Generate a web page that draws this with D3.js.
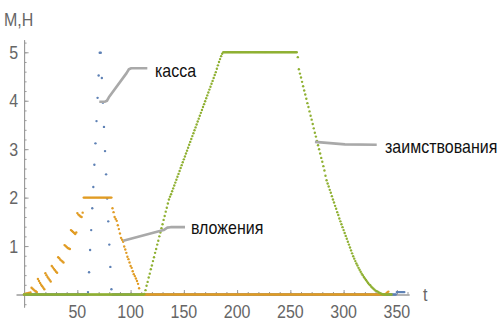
<!DOCTYPE html>
<html>
<head>
<meta charset="utf-8">
<script src="https://cdn.jsdelivr.net/npm/d3@7"></script>
<style>
  html, body { margin: 0; background: #fff; }
  svg { display: block; }
</style>
</head>
<body>
<svg id="chart" width="499" height="324"></svg>
<script>
// ---- data: M,H over time t (integer time steps) ----
// касса (cash): rise and fall around t = 60..82, flat stretches elsewhere
const kassaStart = 60;
const kassa = [0.05, 0.46, 0.92, 1.33, 1.78, 2.22, 2.68, 3.12, 3.58, 4.06, 4.52, 4.99,
               4.99, 4.47, 3.96, 3.46, 2.96, 2.48, 1.98, 1.51, 1.03, 0.57, 0.11];
const kassaLevels = [[0, 59, 0], [83, 349, 0], [350, 357, 0.05]];

// вложения (investments): stepped build-up, plateau at 2, decline
const vlozhStart = 0;
const vlozh = [0.00, 0.01, 0.02, 0.02, 0.03, 0.03, 0.04,
               0.14, 0.12, 0.10, 0.08, 0.07, 0.05,
               0.32, 0.28, 0.24, 0.20, 0.17, 0.14, 0.11,
               0.44, 0.40, 0.36, 0.33, 0.30, 0.27,
               0.59, 0.56, 0.53, 0.50, 0.47, 0.45,
               0.77, 0.75, 0.72, 0.70, 0.68, 0.66,
               1.02, 1.00, 0.98, 0.96, 0.95, 0.94,
               1.33, 1.31, 1.29, 1.27, 1.25, 1.28,
               1.68, 1.65, 1.63, 1.61, 1.60, 1.69];
const vlozhDownStart = 83;
const vlozhDown = [1.78, 1.70, 1.60, 1.56, 1.52, 1.43, 1.35, 1.26, 1.17, 1.13, 1.09, 0.99, 0.93,
                   0.86, 0.78, 0.73, 0.66, 0.59, 0.55, 0.48, 0.42, 0.38, 0.33, 0.28, 0.22, 0.13];
const vlozhTailStart = 340;
const vlozhTail = [0.02, 0.04, 0.06];
const vlozhLevels = [[56, 82, 2], [109, 339, 0]];

// заимствования (borrowings): ramp up, plateau at 5, ramp down
const zaimUpStart = 113;
const zaimUp = [0.01, 0.09, 0.18, 0.26, 0.35, 0.43, 0.52, 0.60, 0.69, 0.77, 0.86, 0.94, 1.03,
                1.11, 1.20, 1.28, 1.37, 1.45, 1.54, 1.62, 1.71, 1.79, 1.88, 1.96, 2.02, 2.07,
                2.13, 2.19, 2.25, 2.31, 2.37, 2.43, 2.49, 2.55, 2.61, 2.67, 2.73, 2.79, 2.85,
                2.91, 2.97, 3.03, 3.09, 3.15, 3.21, 3.27, 3.33, 3.39, 3.45, 3.51, 3.57, 3.63,
                3.69, 3.75, 3.81, 3.87, 3.93, 3.99, 4.05, 4.11, 4.17, 4.23, 4.29, 4.35, 4.41,
                4.47, 4.53, 4.59, 4.66, 4.73, 4.80, 4.86, 4.92, 4.97, 5.00];
const zaimDownStart = 257;
const zaimDown = [4.90, 4.65, 4.56, 4.48, 4.39, 4.30, 4.21, 4.13, 4.04, 3.95, 3.87, 3.78, 3.69,
                  3.61, 3.52, 3.43, 3.34, 3.26, 3.17, 3.08, 3.00, 2.91, 2.82, 2.74, 2.65, 2.56,
                  2.45, 2.36, 2.29, 2.23, 2.16, 2.10, 2.03, 1.96, 1.90, 1.83, 1.77, 1.70, 1.64,
                  1.57, 1.51, 1.45, 1.39, 1.33, 1.27, 1.21, 1.15, 1.09, 1.03, 0.97, 0.91, 0.85,
                  0.79, 0.74, 0.69, 0.64, 0.60, 0.55, 0.51, 0.47, 0.43, 0.40, 0.36, 0.33, 0.30,
                  0.27, 0.24, 0.21, 0.19, 0.16, 0.14, 0.12, 0.10, 0.08, 0.07, 0.06, 0.04, 0.03,
                  0.02, 0.01, 0.00];
const zaimLevels = [[0, 112, 0], [188, 256, 5], [338, 345, 0]];

// axes
const xMajor = [50, 100, 150, 200, 250, 300, 350];
const xMinor = d3.range(10, 361, 10);
const yMajor = [1, 2, 3, 4, 5];
const yMinor = d3.range(-0.2, 5.21, 0.2);

// callout labels: leader points (t, value) and label anchor
const calloutNames = ["касса", "вложения", "заимствования"];
const calloutPaths = [
  [[70.6, 3.98], [76.0, 3.98], [77.8, 4.00], [79.6, 4.07], [96.2, 4.57], [98.4, 4.65], [100.6, 4.67], [115.7, 4.67]],
  [[93.1, 1.11], [131.0, 1.33], [134.5, 1.38], [137.5, 1.39], [151.1, 1.39]],
  [[273.1, 3.15], [301.3, 3.10], [331.1, 3.09]]
];
const calloutText = [[122.9, 4.63], [156.7, 1.39], [338.9, 3.05]];

// ---- helpers ----
function points(start, values) {
  return values.map((v, i) => [start + i, v]);
}
function levels(runs) {
  const out = [];
  runs.forEach(([a, b, v]) => { for (let t = a; t <= b; t++) out.push([t, v]); });
  return out;
}

const series = [
  { color: "#5E81B5", pts: [...levels(kassaLevels), ...points(kassaStart, kassa)] },
  { color: "#E19C24", pts: [...points(vlozhStart, vlozh), ...levels(vlozhLevels),
                            ...points(vlozhDownStart, vlozhDown), ...points(vlozhTailStart, vlozhTail)] },
  { color: "#8FB032", pts: [...levels(zaimLevels), ...points(zaimUpStart, zaimUp),
                            ...points(zaimDownStart, zaimDown)] }
];

const svg = d3.select("#chart");
const x = d3.scaleLinear().domain([-7.5, 361.5]).range([16.1, 409.1]);
const y = d3.scaleLinear().domain([-0.26, 5.26]).range([307.1, 39.7]);

const FONT = "'Liberation Sans', Arial, sans-serif";
const SY = 1.15; // text is set slightly tall

function label(g, txt, px, py, anchor, color) {
  return g.append("text")
    .attr("transform", `translate(${px},${py}) scale(1,${SY})`)
    .attr("dy", "0.36em")
    .attr("text-anchor", anchor)
    .attr("font-family", FONT)
    .attr("font-size", 16)
    .attr("fill", color)
    .text(txt);
}

const AX = "#9a9a9a", LAB = "#666";

// x axis: minor ticks, then major ticks with domain line
const gx = svg.append("g").attr("transform", `translate(0,${y(0)})`);
gx.append("g").call(d3.axisBottom(x).tickValues(xMinor).tickSize(-2.5).tickSizeOuter(0).tickFormat(""));
gx.append("g").call(d3.axisBottom(x).tickValues(xMajor).tickSize(-4.5).tickSizeOuter(0).tickFormat(""));
gx.selectAll("path.domain").attr("stroke", AX).attr("stroke-width", 1);
gx.selectAll(".tick line").attr("stroke", AX).attr("stroke-width", 1);
xMajor.forEach(v => label(gx, v, x(v), 16.5, "middle", LAB));

// y axis
const gy = svg.append("g").attr("transform", `translate(${x(0)},0)`);
gy.append("g").call(d3.axisLeft(y).tickValues(yMinor).tickSize(-2.5).tickSizeOuter(0).tickFormat(""));
gy.append("g").call(d3.axisLeft(y).tickValues(yMajor).tickSize(-4.5).tickSizeOuter(0).tickFormat(""));
gy.selectAll("path.domain").attr("stroke", AX).attr("stroke-width", 1);
gy.selectAll(".tick line").attr("stroke", AX).attr("stroke-width", 1);
yMajor.forEach(v => label(gy, v, -6, y(v), "end", LAB));

// axis titles
label(svg, "t", x(361.5) + 16, y(0), "middle", LAB);
label(svg, "M,H", 4, 19, "start", LAB);

// points of the three series
series.forEach(s => {
  svg.append("g").selectAll("circle").data(s.pts).join("circle")
    .attr("cx", d => x(d[0])).attr("cy", d => y(d[1]))
    .attr("r", 1.2).attr("fill", s.color);
});

// callouts
const leader = d3.line().x(d => x(d[0])).y(d => y(d[1]));
calloutPaths.forEach((p, i) => {
  svg.append("path").attr("d", leader(p))
    .attr("fill", "none").attr("stroke", "#a9a9a9").attr("stroke-width", 2.6)
    .attr("stroke-linejoin", "round");
  const [tt, tv] = calloutText[i];
  label(svg, calloutNames[i], x(tt), y(tv), "start", "#111");
});
</script>
</body>
</html>
